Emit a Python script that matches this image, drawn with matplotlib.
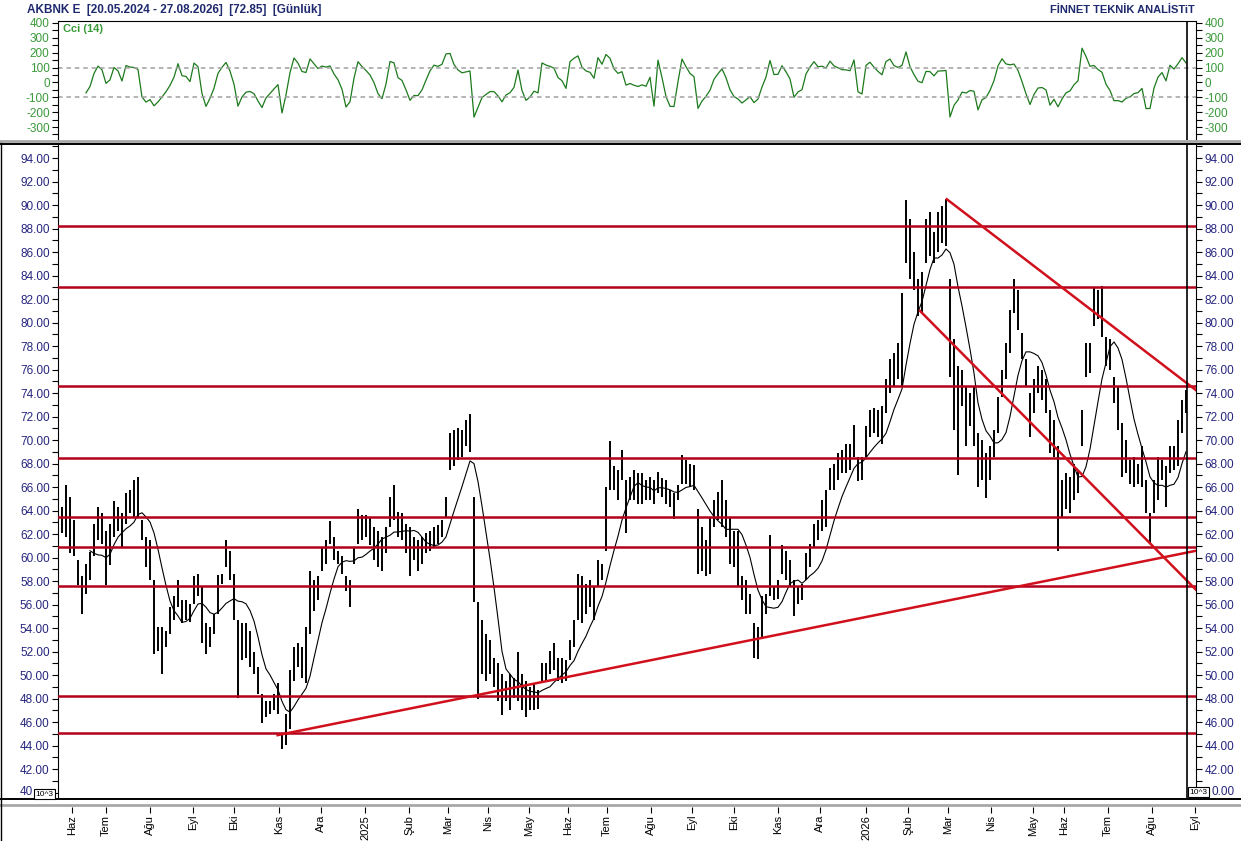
import numpy as np
import pandas as pd
import matplotlib
matplotlib.use("Agg")
import matplotlib.pyplot as plt
from matplotlib.lines import Line2D
from matplotlib.ticker import MultipleLocator, FuncFormatter

plt.rcParams["font.family"] = ["Liberation Sans", "DejaVu Sans"]
plt.rcParams["axes.unicode_minus"] = False

# bar highs / lows (one bar every second trading day)
high = [64.3, 66.2, 65.2, 63.2, 59.8, 58.4, 59.5, 60.5, 62.9, 64.3,
        63.8, 62.3, 62.9, 64.8, 64.3, 63.8, 65.5, 65.8, 66.6, 66.9,
        63.2, 61.8, 61.5, 58.1, 54.1, 54.1, 53.8, 55.8, 56.7, 58.1,
        56.4, 56.4, 56.1, 58.4, 58.6, 57.5, 54.4, 54.1, 55.2, 58.5,
        58.6, 61.5, 60.6, 58.6, 54.7, 54.4, 54.4, 53.8, 52.0, 50.7,
        48.4, 47.8, 47.8, 48.4, 49.3, 45.0, 46.7, 50.4, 52.4, 52.7,
        52.4, 54.1, 58.9, 58.1, 58.4, 60.9, 61.5, 63.1, 61.8, 60.6,
        60.1, 58.4, 58.1,
        60.9, 64.1, 63.6, 63.6, 63.5, 62.6, 62.3, 61.8, 62.6, 65.2,
        66.2, 63.9, 63.8, 62.9, 62.6, 61.8, 61.5, 61.8, 62.1, 62.3,
        62.6, 62.8, 63.2, 65.2, 70.6, 70.9, 71.0, 70.9, 71.7, 72.2,
        65.2, 56.2, 54.7, 53.5, 53.0, 51.5, 51.0, 50.1, 49.5, 50.1,
        49.8, 52.0, 50.1, 49.5, 49.0, 49.3, 48.7, 51.0, 51.0, 52.1,
        52.7, 51.5, 51.5, 51.3, 53.0, 54.7, 58.6, 58.4, 57.8, 58.1,
        57.5, 59.8, 59.5, 66.0, 69.9, 67.8, 67.5, 69.2, 66.6, 66.9,
        67.5, 67.2,
        67.2, 66.6, 66.9, 66.6, 67.3, 66.8, 66.6, 65.8, 65.5, 66.2,
        68.7, 68.3, 68.0, 67.9, 64.1, 62.6, 61.5, 63.5, 64.9, 65.6,
        66.6, 64.9, 63.5, 62.3, 62.3, 58.4, 58.1, 56.9, 54.4, 54.1,
        56.7, 56.9, 61.9, 57.5, 58.1, 61.1, 60.6, 59.8, 58.1, 57.5,
        57.8, 60.4, 61.2, 62.9, 63.2, 64.9, 65.8, 67.6, 68.0, 68.9,
        69.2,
        69.7, 69.7, 71.3, 68.6, 68.6, 71.2, 72.6, 72.7, 72.6, 72.9,
        75.2, 76.9, 77.4, 78.3, 82.5, 90.4, 88.8, 86.0, 83.7, 84.3,
        88.8, 89.4, 87.7, 89.4, 89.9, 90.5, 83.7, 78.6, 76.3, 76.0,
        74.6, 74.0, 74.6, 70.6, 70.0, 68.9, 69.5, 70.9, 73.7, 76.0,
        78.3, 81.1, 83.7, 82.8, 79.1, 76.9, 74.0, 75.2, 76.3, 76.0,
        75.2, 72.6, 71.7, 69.5, 66.6, 67.2, 66.9, 68.0, 67.5, 72.6,
        78.3, 78.3, 83.0, 82.8, 83.1, 78.8, 78.6, 75.4, 74.6, 71.5,
        70.0, 68.3, 68.6, 68.0, 69.5, 66.6, 63.8, 66.6, 68.6, 68.3,
        67.8, 69.5, 69.5, 71.7, 73.4, 74.3]
low = [62.1, 61.8, 60.4, 60.1, 57.7, 55.2, 56.9, 58.1, 60.1, 61.5,
       61.2, 57.7, 59.4, 61.8, 62.3, 60.9, 62.9, 63.8, 63.5, 63.5,
       61.5, 59.2, 58.1, 51.8, 52.1, 50.1, 52.4, 53.5, 54.7, 55.8,
       54.4, 54.7, 54.5, 56.1, 56.7, 52.7, 51.8, 52.4, 53.5, 55.2,
       57.8, 59.2, 58.1, 54.7, 48.1, 51.3, 51.5, 50.7, 50.1, 48.4,
       45.9, 46.4, 46.7, 47.0, 46.7, 43.7, 44.1, 45.4, 49.5, 50.7,
       49.8, 49.3, 53.5, 55.5, 56.4, 58.9, 59.5, 61.2, 59.8, 59.5,
       58.6, 57.2, 55.8,
       59.5, 61.2, 61.5, 61.8, 61.1, 59.8, 59.2, 58.9, 60.4, 62.6,
       63.2, 61.8, 61.5, 60.4, 58.4, 59.8, 58.9, 59.5, 60.4, 60.6,
       60.9, 61.2, 61.8, 63.5, 67.5, 67.8, 68.3, 68.6, 69.5, 69.0,
       56.2, 48.0, 50.1, 49.5, 50.1, 49.0, 47.8, 46.6, 47.8, 47.0,
       48.1, 47.8, 47.0, 46.4, 47.0, 47.0, 47.1, 49.5, 49.5, 50.1,
       50.4, 49.5, 49.3, 49.5, 51.3, 52.4, 54.7, 54.4, 55.2, 55.8,
       54.7, 57.5, 58.1, 60.6, 65.8, 65.8, 64.9, 66.6, 62.1, 64.9,
       64.9, 64.6,
       64.6, 64.9, 64.9, 64.6, 65.5, 65.2, 64.6, 64.3, 63.3, 64.9,
       66.3, 66.3, 66.0, 65.8, 58.6, 58.9, 58.4, 58.6, 62.6, 63.2,
       62.6, 61.8, 59.5, 59.2, 57.5, 56.4, 55.2, 55.2, 51.5, 51.4,
       53.1, 55.2, 56.7, 56.4, 56.5, 58.6, 58.1, 57.5, 55.0, 56.1,
       56.4, 58.1, 59.2, 60.9, 61.5, 62.3, 62.6, 65.8, 65.8, 66.6,
       67.2,
       67.2, 67.5, 68.6, 66.5, 66.6, 68.6, 70.3, 70.6, 70.3, 69.7,
       72.3, 74.0, 74.6, 75.2, 74.6, 85.1, 83.7, 82.8, 80.6, 80.8,
       85.1, 85.7, 85.1, 86.0, 86.8, 86.5, 75.4, 70.9, 67.0, 72.9,
       69.5, 71.2, 69.5, 66.0, 66.6, 65.1, 66.6, 68.6, 70.6, 73.7,
       75.2, 77.4, 80.8, 79.4, 76.9, 74.6, 70.3, 72.3, 74.0, 73.4,
       72.3, 68.9, 68.6, 60.6, 63.5, 64.1, 63.8, 64.9, 65.5, 69.5,
       75.4, 75.7, 79.7, 80.3, 78.8, 76.3, 76.0, 73.2, 70.9, 66.9,
       67.2, 66.3, 66.0, 66.3, 66.0, 63.8, 61.2, 63.8, 64.9, 66.6,
       64.3, 67.2, 67.5, 67.8, 70.6, 72.3]

# horizontal support / resistance levels
levels = [88.2, 83.0, 74.6, 68.5, 63.5, 60.9, 57.6, 48.2, 45.1]
# trend lines: bar positions and prices at both ends
up_x, up_y = [53.9, 283.7], [44.9, 60.6]
top_x, top_y = [221.2, 283.7], [90.5, 74.2]
mid_x, mid_y = [214.5, 283.7], [81.0, 57.2]

# month labels and their bar positions
month_idx = [2.5, 11, 22, 32.75, 43, 54.25, 64.75, 75.75, 86.75, 96.5,
             106.5, 116.75, 126.5, 136.25, 147.25, 157.5, 168, 179, 189.5,
             201, 211.5, 221.5, 232.25, 242.75, 250.5, 261.5, 272.5, 283.25]
month_lbl = ["Haz", "Tem", "Ağu", "Eyl", "Eki", "Kas", "Ara", "2025", "Şub",
             "Mar", "Nis", "May", "Haz", "Tem", "Ağu", "Eyl", "Eki", "Kas",
             "Ara", "2026", "Şub", "Mar", "Nis", "May", "Haz", "Tem", "Ağu",
             "Eyl"]

navy = "#25257f"
green = "#3a9a3a"
W, H = 1241, 841

hi = np.array(high)
lo = np.array(low)
xs = np.arange(len(hi))
tp = pd.Series((hi + lo) / 2)
ma = tp.rolling(8).mean()
sma = tp.rolling(7).mean()
mad = tp.rolling(7).apply(lambda s: np.abs(s - s.mean()).mean(), raw=True)
cci = (tp - sma) / (0.015 * mad)
last = xs[-1] + 0.25
xlim = (-1, 283.5)


def box(l, t, r, b):
    return [l / W, 1 - b / H, (r - l) / W, (b - t) / H]


fig = plt.figure(figsize=(W / 100, H / 100), dpi=100)
ax = fig.add_axes(box(58, 144, 1196, 798))
axc = fig.add_axes(box(58, 21, 1196, 140))
axd = fig.add_axes(box(58, 806, 1196, 806.5))

# price panel
ax.vlines(xs, lo, hi, color="black", lw=1.4, zorder=2)
ax.plot(xs, ma, color="black", lw=0.8, zorder=3)
for lv in levels:
    ax.axhline(lv, color="#b3001b", lw=1.8, zorder=4)
for tx, ty in [(up_x, up_y), (top_x, top_y), (mid_x, mid_y)]:
    ax.plot(tx, ty, color="#d0101c", lw=1.8, zorder=4)
ax.axvline(last, color="black", lw=1.2, zorder=5)
ax.set_xlim(xlim)
ax.set_ylim(39.55, 95.2)
ax.set_xticks([])
ax.yaxis.set_major_locator(MultipleLocator(2))
ax.yaxis.set_minor_locator(MultipleLocator(1))
# the 40 label is half hidden behind the 10^3 boxes, drawn separately below
ax.yaxis.set_major_formatter(FuncFormatter(lambda v, p: "" if v < 41 else "%.2f" % v))
ax.tick_params(axis="y", which="both", left=True, right=True, labelleft=True,
               labelright=True, direction="out", length=4, width=0.8,
               labelsize=8.5, labelcolor=navy, pad=2)
ax.spines["top"].set_visible(False)
ax.spines["bottom"].set_visible(False)

# CCI panel
axc.plot(xs, cci, color="#1c7a1c", lw=0.9)
for lv in [100, -100]:
    axc.axhline(lv, color="#a0a0a0", lw=1.1, ls=(0, (3, 2.5)))
axc.axvline(last, color="black", lw=1.2)
axc.set_xlim(xlim)
axc.set_ylim(-387, 413)
axc.set_xticks([])
axc.yaxis.set_major_locator(MultipleLocator(100))
axc.yaxis.set_minor_locator(MultipleLocator(50))
axc.tick_params(axis="y", which="both", left=True, right=True, labelleft=True,
                labelright=True, direction="out", length=4, width=0.8,
                labelsize=8.5, labelcolor=green, pad=2)
axc.set_yticks([-300, -200, -100, 0, 100, 200, 300, 400])
axc.spines["bottom"].set_visible(False)
axc.text(0.004, 0.975, "Cci (14)", transform=axc.transAxes, ha="left",
         va="top", fontsize=8, fontweight="bold", color=green)

# month axis
axd.set_xlim(xlim)
axd.set_yticks([])
axd.set_xticks(month_idx)
axd.set_xticklabels(month_lbl, rotation=90, fontsize=8)
axd.tick_params(axis="x", direction="out", length=4, width=0.8, pad=2)
for s in axd.spines.values():
    s.set_visible(False)
axd.patch.set_alpha(0)

# separators
for yy, col, lw in [(140.5, "#a8a8a8", 2.0), (143.5, "black", 1.4),
                    (798.5, "black", 1.4), (804.5, "#a8a8a8", 2.0)]:
    fig.add_artist(Line2D([0, 1], [1 - yy / H] * 2, color=col, lw=lw))
fig.add_artist(Line2D([0.5 / W] * 2, [0, 1 - 143 / H], color="black", lw=1))

fig.text(27 / W, 1 - 10 / H,
         "AKBNK E  [20.05.2024 - 27.08.2026]  [72.85]  [Günlük]",
         ha="left", va="center", fontsize=8.5, fontweight="bold", color="#1f2a6e")
fig.text(1195 / W, 1 - 10 / H, "FİNNET TEKNİK ANALİSTiT", ha="right",
         va="center", fontsize=8, fontweight="bold", color="#1f2a6e")

# visible parts of the 40.00 labels next to the 10^3 boxes
fig.text(33 / W, 1 - 792 / H, "40", ha="right", va="center", fontsize=8.5, color=navy)
fig.text(1211 / W, 1 - 792 / H, "0.00", ha="left", va="center", fontsize=8.5, color=navy)
for bx, by in [(44.5, 794), (1198.5, 792)]:
    fig.text(bx / W, 1 - by / H, "10^3", ha="center", va="center", fontsize=6,
             bbox=dict(boxstyle="square,pad=0.2", fc="white", ec="black", lw=0.8),
             zorder=10)

fig.savefig("out.png", dpi=100)
